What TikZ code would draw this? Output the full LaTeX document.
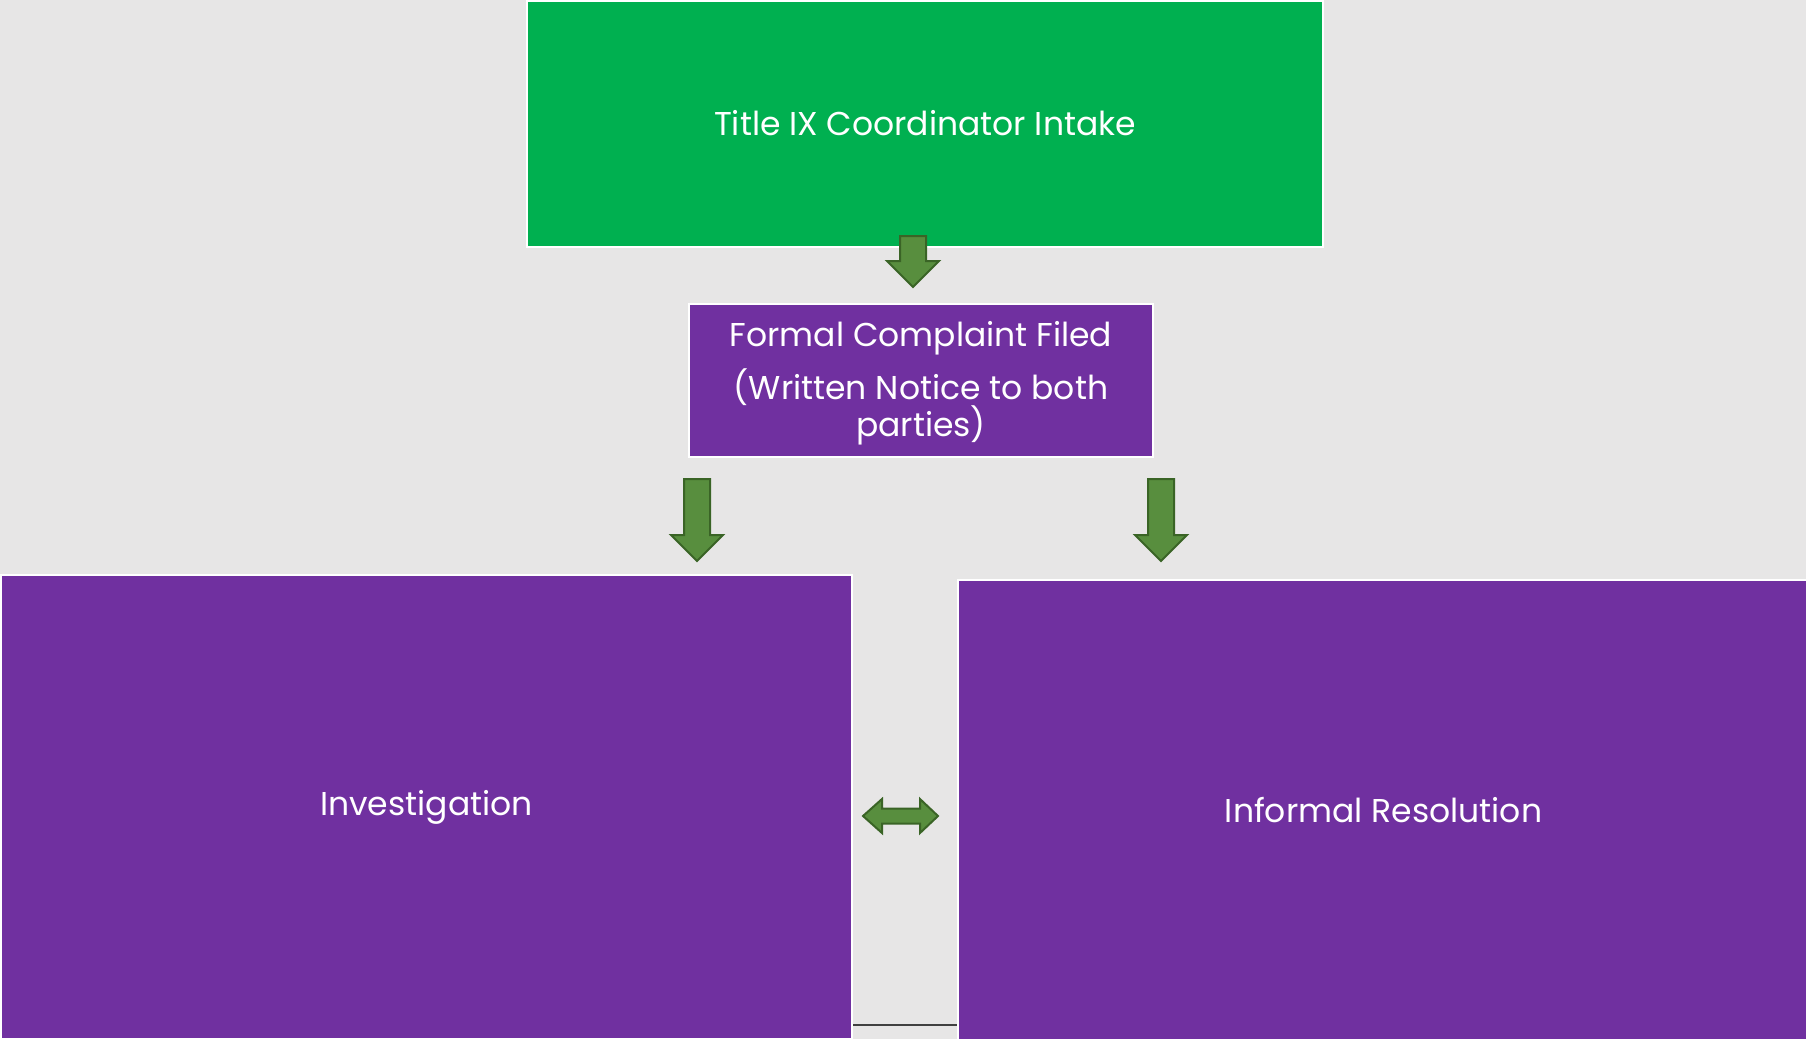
\documentclass[tikz,border=0pt]{standalone}
\usepackage{fontspec}
\setmainfont{Poppins}
\usetikzlibrary{calc}
\definecolor{bg}{RGB}{231,230,230}
\definecolor{boxgreen}{RGB}{0,176,80}
\definecolor{boxpurple}{RGB}{112,48,160}
\definecolor{arrowfill}{RGB}{88,142,62}
\definecolor{arrowline}{RGB}{58,100,38}
\definecolor{rulegray}{RGB}{64,64,64}
\begin{document}
\begin{tikzpicture}[x=1pt,y=-1pt,
  box/.style={draw=white, line width=2pt, inner sep=0pt, text=white,
    align=center, font=\fontsize{33}{37}\selectfont},
  label/.style={text=white, inner sep=0pt, font=\fontsize{33}{37}\selectfont},
  blockarrow/.style={fill=arrowfill, draw=arrowline, line width=2pt, line join=miter},
  pics/downblock/.style={code={
    \draw[blockarrow] (-13,0) -- (13,0) -- (13,#1) -- (26,#1) -- (0,#1+26)
      -- (-26,#1) -- (-13,#1) -- cycle;}}]
\useasboundingbox (0,0) rectangle (1806,1039);
\fill[bg] (0,0) rectangle (1806,1039);
\begin{scope}
\clip (0,0) rectangle (1806,1039);
% boxes
\node[box, fill=boxgreen, minimum width=796pt, minimum height=246pt] (intake)
  at (925,123.5) {Title IX Coordinator Intake};
\node[box, fill=boxpurple, minimum width=464pt, minimum height=153pt] (formal)
  at (921,380.5) {};
\node[box, fill=boxpurple, minimum width=851pt, minimum height=464pt] (inv)
  at (426.5,807) {Investigation};
\node[box, fill=boxpurple, minimum width=851pt, minimum height=460pt] (inf)
  at (1383.5,810) {Informal Resolution};
% text of the complaint box
\node[label, anchor=base] (fl1) at ($(formal.north)+(0,43)$) {Formal Complaint Filed};
\node[label, anchor=base] (fl2) at ($(formal.north)+(0,96)$) {(Written Notice to both};
\node[label, anchor=base] (fl3) at ($(formal.north)+(0,133)$) {parties)};
% block arrows
\pic at (913,236) {downblock=25};
\pic at (697,479) {downblock=56};
\pic at (1161,479) {downblock=56};
\draw[blockarrow] (863,816) -- (882,799) -- (882,808.5) -- (920,808.5) -- (920,799)
  -- (938,816) -- (920,833) -- (920,823.5) -- (882,823.5) -- (882,833) -- cycle;
% thin rule between the two lower boxes
\coordinate (ly) at (0,1025);
\draw[rulegray, line width=1.5pt] (inv.east |- ly) -- (inf.west |- ly);
\end{scope}
\end{tikzpicture}
\end{document}
